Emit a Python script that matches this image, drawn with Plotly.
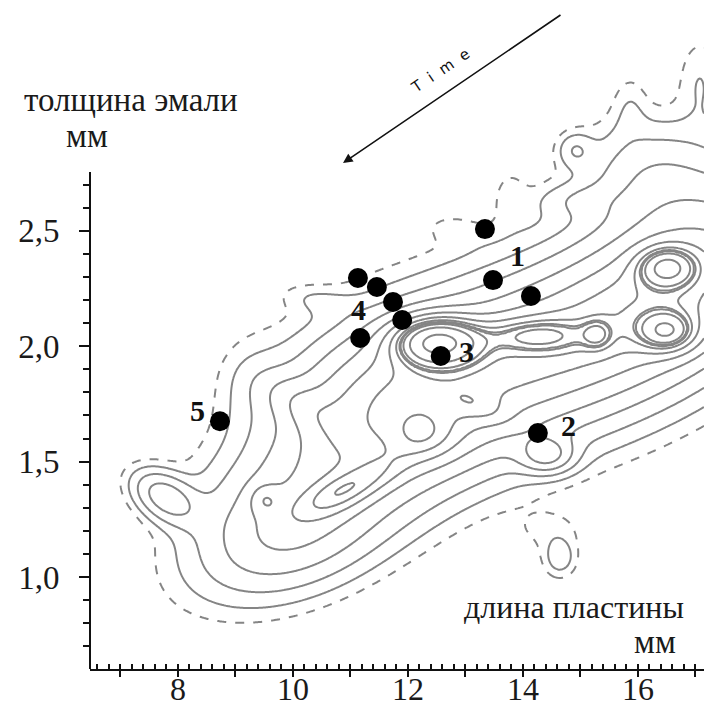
import numpy as np
import plotly.graph_objects as go

# ---- black dots (длина пластины, толщина эмали) ----
pt_x = [13.34, 13.48, 14.14, 11.13, 11.46, 11.74, 11.90, 11.17, 12.57, 14.26, 8.73]
pt_y = [2.508, 2.287, 2.218, 2.296, 2.257, 2.192, 2.114, 2.036, 1.958, 1.624, 1.675]
label_text = ["1", "4", "3", "2", "5"]
label_idx = [1, 7, 8, 9, 10]

# ---- density kernels ----
# band chain: centre x, centre y, weight, spread along / across (px), orientation (deg)
band_x = [9.687, 11.252, 12.296, 13.687, 15.078, 16.296, 17.339, 10.122]
band_y = [1.312, 1.681, 1.789, 1.919, 2.049, 2.209, 2.374, 1.160]
band_w = [0.25, 0.40, 0.40, 0.40, 0.40, 0.40, 0.40, 0.25]
band_a = [60, 60, 70, 70, 70, 70, 70, 70]
band_b = [45, 55, 55, 55, 55, 55, 55, 35]
band_t = [25, 22, 20, 20, 25, 35, 40, 20]
# local features
k_x = [7.774, 12.504, 14.174, 15.287, 16.504, 16.522, 14.417, 13.252, 12.296,
       10.800, 9.513, 16.209, 15.861, 17.078, 14.904, 14.904, 10.400, 14.643,
       12.817, 13.774, 9.252, 10.122, 11.513, 14.470]
k_y = [1.347, 2.019, 2.049, 2.049, 2.344, 2.062, 1.529, 1.737, 1.607,
       1.364, 1.334, 2.764, 3.046, 3.154, 2.851, 2.634, 2.201, 1.082,
       2.504, 2.656, 1.832, 1.746, 1.464, 1.204]
k_w = [0.32, 1.20, 0.35, 0.25, 0.60, 0.60, 0.35, 0.15, 0.25,
       0.40, 0.20, 0.18, 0.06, 0.08, 0.12, 0.08, 0.06, 0.12,
       0.05, 0.05, 0.06, 0.15, 0.15, 0.05]
k_a = [24, 16, 35, 10, 14, 14, 12, 22, 22,
       30, 10, 45, 12, 15, 12, 12, 10, 12,
       10, 12, 25, 15, 25, 25]
k_b = [15, 28, 12, 10, 20, 20, 18, 10, 16,
       12, 10, 35, 22, 30, 12, 30, 25, 14,
       20, 20, 35, 30, 12, 15]
k_t = [-32, 90, 0, 0, 90, 90, 90, -20, 0,
       25, 0, 0, 0, 0, 0, 90, 80, 0,
       80, 0, 0, 60, 25, 0]

x_ticks = [7, 8, 9, 10, 11, 12, 13, 14, 15, 16, 17]
x_ticktext = ["", "8", "", "10", "", "12", "", "14", "", "16", ""]
y_ticks = [1.0, 1.5, 2.0, 2.5]
y_ticktext = ["1,0", "1,5", "2,0", "2,5"]
y_minor = [0.7, 0.8, 0.9, 1.1, 1.2, 1.3, 1.4, 1.6, 1.7, 1.8, 1.9, 2.1, 2.2, 2.3, 2.4, 2.6, 2.7]

X_RANGE = [6.47, 17.15]
Y_RANGE = [0.601, 3.501]
W, H = 704, 706
ML, MB = 90, 37
PW, PH = W - ML, H - MB
sx = PW / (X_RANGE[1] - X_RANGE[0])
sy = PH / (Y_RANGE[1] - Y_RANGE[0])

gx = np.linspace(X_RANGE[0], X_RANGE[1], 400)
gy = np.linspace(Y_RANGE[0], Y_RANGE[1], 400)
GX, GY = np.meshgrid(gx, gy)


def kernel(cx, cy, w, a, b, t):
    dx = (GX - cx) * sx
    dy = (GY - cy) * sy
    th = np.deg2rad(t)
    u = dx * np.cos(th) + dy * np.sin(th)
    v = -dx * np.sin(th) + dy * np.cos(th)
    return w * np.exp(-0.5 * (u ** 2 / a ** 2 + v ** 2 / b ** 2))


Z = np.full_like(GX, 1e-9)
for cx, cy, w, a, b, t in zip(band_x, band_y, band_w, band_a, band_b, band_t):
    Z += kernel(cx, cy, w, a, b, t)
for cx, cy, w, a, b, t in zip(k_x, k_y, k_w, k_a, k_b, k_t):
    Z += kernel(cx, cy, w, a, b, t)

# monotone rescaling of the density so that levels are evenly spaced
T = np.where(Z < 1, -np.sqrt(2 * np.log(1 / Z)), np.sqrt(2 * np.log(np.maximum(Z, 1))))
Q_OUT = 2.5
STEP = 0.29

LC = "#858585"
fig = go.Figure()
fig.add_trace(go.Contour(x=gx, y=gy, z=T, showscale=False, contours_coloring="lines",
                         contours=dict(start=-Q_OUT, end=-Q_OUT, size=1),
                         line=dict(color=LC, width=2, dash="dash"),
                         colorscale=[[0, LC], [1, LC]], hoverinfo="skip"))
fig.add_trace(go.Contour(x=gx, y=gy, z=T, showscale=False, contours_coloring="lines",
                         contours=dict(start=-Q_OUT + STEP, end=3, size=STEP),
                         line=dict(color=LC, width=2),
                         colorscale=[[0, LC], [1, LC]], hoverinfo="skip"))
fig.add_trace(go.Scatter(x=pt_x, y=pt_y, mode="markers",
                         marker=dict(color="black", size=20), hoverinfo="skip"))

offs = {"1": (24, 25), "4": (-2, 28), "3": (26, 4), "2": (31, 8), "5": (-22, 11)}
for t, i in zip(label_text, label_idx):
    fig.add_annotation(x=pt_x[i], y=pt_y[i], text="<b>%s</b>" % t, showarrow=False,
                       xshift=offs[t][0], yshift=offs[t][1],
                       font=dict(family="Liberation Serif", size=30, color="#111"))


def px(xp):
    return (xp - ML) / PW


def py(yp):
    return (PH - yp) / PH


serif = dict(family="Liberation Serif", size=33, color="#1a1a1a")
fig.add_annotation(x=px(22), y=py(100), xref="paper", yref="paper", text="толщина эмали",
                   showarrow=False, xanchor="left", yanchor="middle", font=serif)
fig.add_annotation(x=px(87), y=py(136), xref="paper", yref="paper", text="мм",
                   showarrow=False, xanchor="center", yanchor="middle", font=serif)
fig.add_annotation(x=px(462), y=py(607), xref="paper", yref="paper", text="длина пластины",
                   showarrow=False, xanchor="left", yanchor="middle",
                   font=dict(family="Liberation Serif", size=32, color="#1a1a1a"))
fig.add_annotation(x=px(655), y=py(642), xref="paper", yref="paper", text="мм",
                   showarrow=False, xanchor="center", yanchor="middle", font=serif)
# Time arrow
fig.add_annotation(x=px(343), y=py(163), xref="paper", yref="paper", text="",
                   ax=562 - 343, ay=14 - 163, showarrow=True, arrowhead=2, arrowsize=1.2,
                   arrowwidth=1.6, arrowcolor="#111")
fig.add_annotation(x=px(440), y=py(42), xref="paper", yref="paper",
                   text="T\u00a0\u00a0i\u00a0\u00a0m\u00a0\u00a0e", textangle=-34,
                   showarrow=False, font=dict(family="DejaVu Sans", size=15, color="#111"))

fig.add_shape(type="line", xref="paper", yref="y", x0=0, x1=0, y0=Y_RANGE[0], y1=2.755,
              line=dict(color="#111", width=2))

fig.update_layout(
    width=W, height=H, margin=dict(l=ML, r=0, t=0, b=MB),
    plot_bgcolor="white", paper_bgcolor="white", showlegend=False,
    xaxis=dict(range=X_RANGE, showgrid=False, zeroline=False, showline=True, automargin=False,
               linecolor="#111", linewidth=2, tickmode="array", tickvals=x_ticks,
               ticktext=x_ticktext, ticks="outside", ticklen=6, tickwidth=2,
               tickcolor="#111", tickfont=dict(family="Liberation Serif", size=32,
                                               color="#1a1a1a"),
               ticklabelstandoff=-15,
               minor=dict(dtick=0.2, tick0=0, ticks="inside", ticklen=5,
                          tickcolor="#111", tickwidth=1.5)),
    yaxis=dict(range=Y_RANGE, showgrid=False, zeroline=False, showline=False, automargin=False,
               tickmode="array", tickvals=y_ticks, ticktext=y_ticktext,
               ticks="outside", ticklen=10, tickwidth=2, tickcolor="#111", tickfont=serif,
               ticklabelstandoff=13,
               minor=dict(tickmode="array", tickvals=y_minor, ticks="outside",
                          ticklen=6, tickcolor="#111", tickwidth=2)),
)
fig.write_html("out.html", config={"displayModeBar": False},
               post_script="document.body.style.margin='0';")
